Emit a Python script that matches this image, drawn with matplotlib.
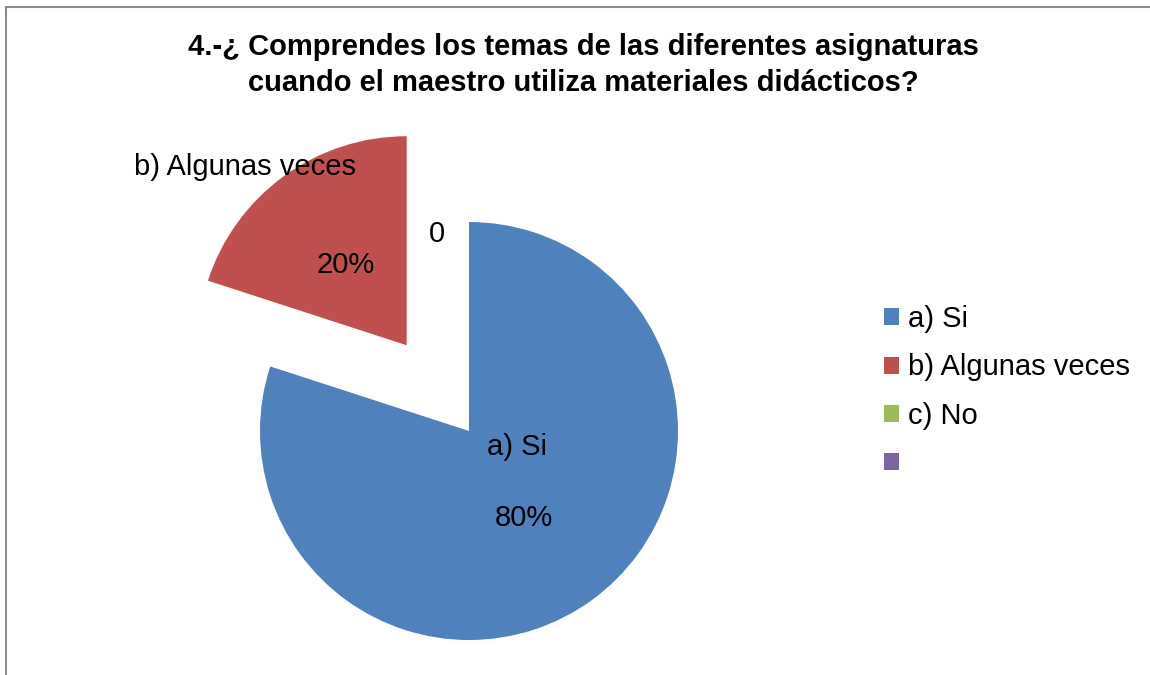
import matplotlib
matplotlib.use("Agg")
import matplotlib.pyplot as plt
from matplotlib.lines import Line2D
import numpy as np

plt.rcParams['font.family'] = ['Liberation Sans', 'DejaVu Sans']

categories = ['a) Si', 'b) Algunas veces', 'c) No', '']
values = [80, 20, 0, 0]
colors = ['#4F81BD', '#C0504D', '#9BBB59', '#8064A2']
title = "4.-¿ Comprendes los temas de las diferentes asignaturas\ncuando el maestro utiliza materiales didácticos?"

W, H = 1150, 675
fig = plt.figure(figsize=(W / 100, H / 100), dpi=100)
ax = fig.add_axes([0, 0, 1, 1])
ax.set_xlim(0, W)
ax.set_ylim(0, H)
ax.set_aspect('equal')
ax.axis('off')

cx, cy, r = 469, H - 431, 209
explode = [0, 106, 0, 0]
wedges, _ = ax.pie(values, colors=colors, startangle=90, counterclock=False,
                   center=(cx, cy), radius=r, explode=explode, frame=True)
ax.set_xlim(0, W)
ax.set_ylim(0, H)
ax.axis('off')

fs = 21
# data labels
ax.text(cx + 48, cy - 16, 'a) Si', ha='center', va='center', fontsize=fs)
ax.text(cx + 55, cy - 87, '80%', ha='center', va='center', fontsize=fs)
ax.text(245, H - 167, 'b) Algunas veces', ha='center', va='center', fontsize=fs)
ax.text(346, H - 265, '20%', ha='center', va='center', fontsize=fs)
ax.text(437, H - 234, '0', ha='center', va='center', fontsize=fs)

fig.text(583 / W, 1 - 65 / H, title, ha='center', va='center', fontsize=21,
         fontweight='bold', linespacing=1.35)

leg = fig.legend(wedges, categories, loc='upper left',
                 bbox_to_anchor=(884 / W, 1 - 305 / H), frameon=False,
                 fontsize=fs, handlelength=0.52, handleheight=0.52,
                 handletextpad=0.3, labelspacing=0.70, borderaxespad=0, borderpad=0)

# chart frame (left and top edges visible)
fig.add_artist(Line2D([5.5 / W, 5.5 / W], [0, 1 - 7 / H], transform=fig.transFigure,
                      color='#8c8c8c', lw=1.5))
fig.add_artist(Line2D([5.5 / W, 1], [1 - 7 / H, 1 - 7 / H], transform=fig.transFigure,
                      color='#8c8c8c', lw=1.5))

fig.savefig('out.png', dpi=100)
